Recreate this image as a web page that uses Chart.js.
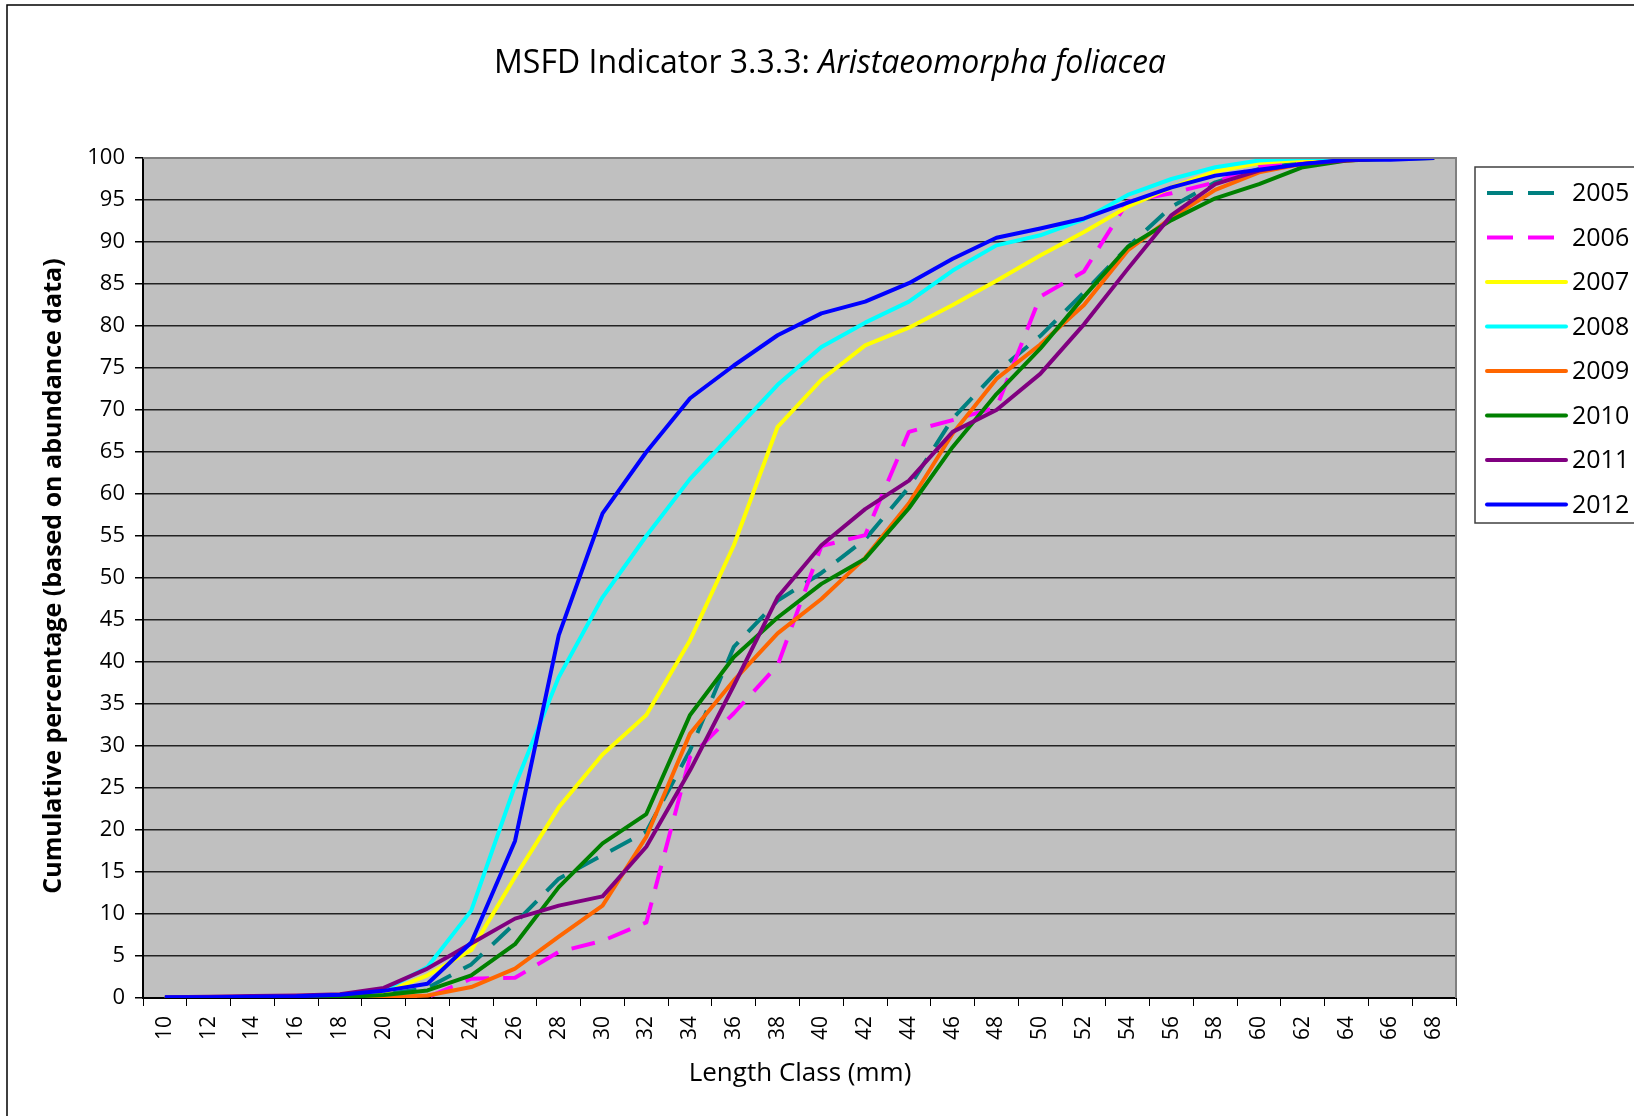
<!DOCTYPE html>
<html>
<head>
<meta charset="utf-8">
<title>MSFD Indicator 3.3.3</title>
<script src="https://cdn.jsdelivr.net/npm/chart.js@4/dist/chart.umd.min.js"></script>
<style>
  html, body { margin: 0; padding: 0; background: #fff; }
  #chart { display: block; }
</style>
</head>
<body>
<canvas id="chart" width="1634" height="1116"></canvas>
<script>
// length classes (mm)
const lengthClasses = ['10', '12', '14', '16', '18', '20', '22', '24', '26', '28', '30', '32', '34', '36', '38',
    '40', '42', '44', '46', '48', '50', '52', '54', '56', '58', '60', '62', '64', '66', '68'];

// cumulative % per year
const y2005 = [0, 0, 0.1, 0.1, 0.2, 0.4, 1.2, 4.0, 8.9, 14.2, 17.0, 19.8, 29.5, 41.8, 47.3,
    50.6, 54.6, 60.8, 69.0, 74.5, 78.8, 84.0, 89.4, 94.2, 97.1, 98.7, 99.5, 100, 100, 100];
const y2006 = [0, 0, 0, 0, 0, 0, 0.1, 2.3, 2.4, 5.5, 6.8, 9.0, 28.7, 33.9, 39.6,
    53.8, 55.1, 67.4, 68.8, 70.3, 83.5, 86.5, 94.8, 95.8, 97.1, 99.0, 99.7, 100, 100, 100];
const y2007 = [0, 0, 0, 0.1, 0.2, 0.6, 2.7, 5.7, 14.4, 22.7, 29.0, 33.7, 42.6, 53.9, 68.0,
    73.6, 77.7, 79.8, 82.5, 85.4, 88.4, 91.2, 94.2, 96.5, 98.4, 99.4, 99.8, 100, 100, 100];
const y2008 = [0, 0.1, 0.1, 0.2, 0.3, 0.9, 3.7, 10.4, 25.3, 38.2, 47.7, 55.0, 61.8, 67.4, 73.0,
    77.5, 80.4, 82.9, 86.6, 89.6, 90.8, 92.7, 95.6, 97.5, 98.9, 99.7, 100, 100, 100, 100];
const y2009 = [0, 0, 0, 0, 0, 0.1, 0.3, 1.3, 3.5, 7.3, 11.0, 19.2, 31.5, 37.8, 43.4,
    47.5, 52.4, 58.9, 67.2, 73.7, 77.8, 82.5, 89.0, 92.9, 96.2, 98.3, 99.3, 99.7, 100, 100];
const y2010 = [0, 0, 0, 0, 0.1, 0.35, 0.9, 2.7, 6.4, 13.2, 18.4, 21.9, 33.7, 40.6, 45.3,
    49.3, 52.3, 58.3, 65.6, 71.9, 77.3, 83.5, 89.4, 92.6, 95.2, 96.9, 98.9, 99.7, 99.9, 100];
const y2011 = [0.1, 0.15, 0.25, 0.3, 0.45, 1.2, 3.5, 6.5, 9.45, 11.0, 12.1, 18.0, 27.1, 37.2, 47.7,
    53.9, 58.2, 61.6, 67.4, 70.0, 74.3, 80.2, 86.8, 93.2, 96.9, 98.5, 99.3, 99.7, 100, 100];
const y2012 = [0.1, 0.1, 0.15, 0.2, 0.4, 0.85, 1.7, 6.6, 18.7, 43.2, 57.7, 65.0, 71.4, 75.3, 78.9,
    81.5, 82.9, 85.1, 88.0, 90.5, 91.6, 92.8, 94.7, 96.5, 97.9, 98.6, 99.3, 99.8, 99.8, 100];

const years = ['2005', '2006', '2007', '2008', '2009', '2010', '2011', '2012'];
const seriesValues = [y2005, y2006, y2007, y2008, y2009, y2010, y2011, y2012];
const seriesColors = ['#008080', '#FF00FF', '#FFFF00', '#00FFFF', '#FF6600', '#008000', '#800080', '#0000FF'];
const dashed = [true, true, false, false, false, false, false, false];

const FONT = '"Open Sans", "Liberation Sans", sans-serif';
const DASH = [24, 14];

const datasets = years.map((yr, i) => ({
    label: yr,
    data: seriesValues[i],
    borderColor: seriesColors[i],
    backgroundColor: seriesColors[i],
    borderWidth: 4,
    borderDash: dashed[i] ? DASH : [],
    borderCapStyle: 'butt',
    borderJoinStyle: 'round',
    pointRadius: 0,
    tension: 0,
    fill: false,
    order: years.length - i   // later years drawn on top
}));

// background, frame, titles and legend box
const decor = {
    id: 'decor',
    beforeDraw(chart) {
        const ctx = chart.ctx;
        const a = chart.chartArea;
        ctx.save();
        ctx.fillStyle = '#fff';
        ctx.fillRect(0, 0, chart.width, chart.height);
        ctx.strokeStyle = '#000';
        ctx.lineWidth = 1.5;
        ctx.strokeRect(7, 5, chart.width + 20, chart.height + 20);
        ctx.fillStyle = '#C0C0C0';
        ctx.fillRect(a.left, a.top, a.right - a.left, a.bottom - a.top);
        ctx.restore();
    },
    afterDraw(chart) {
        const ctx = chart.ctx;
        const a = chart.chartArea;
        ctx.save();

        // grey plot border on top/right
        ctx.strokeStyle = '#808080';
        ctx.lineWidth = 2;
        ctx.beginPath();
        ctx.moveTo(a.left, a.top);
        ctx.lineTo(a.right, a.top);
        ctx.lineTo(a.right, a.bottom);
        ctx.stroke();

        // title: normal + italic part
        ctx.fillStyle = '#000';
        ctx.textBaseline = 'alphabetic';
        const t1 = 'MSFD Indicator 3.3.3: ';
        const t2 = 'Aristaeomorpha foliacea';
        const f1 = '32px ' + FONT;
        const f2 = 'italic 32px ' + FONT;
        ctx.font = f1;
        const w1 = ctx.measureText(t1).width;
        ctx.font = f2;
        const w2 = ctx.measureText(t2).width;
        const x0 = 830 - (w1 + w2) / 2;
        ctx.textAlign = 'left';
        ctx.font = f1;
        ctx.fillText(t1, x0, 73);
        ctx.font = f2;
        ctx.fillText(t2, x0 + w1, 73);

        // axis titles
        ctx.font = 'bold 25px ' + FONT;
        ctx.textAlign = 'center';
        ctx.textBaseline = 'middle';
        ctx.save();
        ctx.translate(54, 576);
        ctx.rotate(-Math.PI / 2);
        ctx.fillText('Cumulative percentage (based on abundance data)', 0, 0);
        ctx.restore();
        ctx.font = '26px ' + FONT;
        ctx.fillText('Length Class (mm)', 800, 1074);

        // legend
        ctx.fillStyle = '#fff';
        ctx.fillRect(1475, 167, 200, 356);
        ctx.strokeStyle = '#404040';
        ctx.lineWidth = 1.5;
        ctx.strokeRect(1475, 167, 200, 356);
        ctx.font = '25px ' + FONT;
        ctx.textAlign = 'left';
        chart.data.datasets.forEach((ds, i) => {
            const y = 193 + i * 44.5;
            ctx.strokeStyle = ds.borderColor;
            ctx.lineWidth = 4;
            ctx.lineCap = ds.borderDash.length ? 'butt' : 'round';
            ctx.setLineDash(ds.borderDash.length ? [26, 15] : []);
            ctx.beginPath();
            ctx.moveTo(1487, y);
            ctx.lineTo(1566, y);
            ctx.stroke();
            ctx.setLineDash([]);
            ctx.fillStyle = '#000';
            ctx.fillText(ds.label, 1572, y + 1);
        });
        ctx.restore();
    }
};

new Chart(document.getElementById('chart'), {
    type: 'line',
    data: { labels: lengthClasses, datasets: datasets },
    options: {
        responsive: false,
        animation: false,
        devicePixelRatio: 1,
        layout: { padding: { top: 158, right: 178, bottom: 0, left: 0 } },
        plugins: {
            legend: { display: false },
            title: { display: false },
            tooltip: { enabled: false }
        },
        scales: {
            x: {
                type: 'category',
                offset: true,
                grid: {
                    offset: true,
                    drawOnChartArea: false,
                    drawTicks: true,
                    tickLength: 8,
                    tickColor: '#000',
                    lineWidth: 1
                },
                border: { display: true, color: '#000', width: 2 },
                ticks: {
                    autoSkip: false,
                    maxRotation: 90,
                    minRotation: 90,
                    padding: 10,
                    color: '#000',
                    font: { family: FONT, size: 21 }
                },
                afterFit: s => { s.height = 118; }
            },
            y: {
                min: 0,
                max: 100,
                ticks: {
                    stepSize: 5,
                    padding: 10,
                    color: '#000',
                    font: { family: FONT, size: 22 }
                },
                grid: {
                    color: c => (c.tick && c.tick.value === 100) ? '#808080' : '#222',
                    lineWidth: 1.5,
                    tickLength: 8,
                    tickColor: '#000'
                },
                border: { display: true, color: '#000', width: 2 },
                afterFit: s => { s.width = 143; }
            }
        }
    },
    plugins: [decor]
});
</script>
</body>
</html>
